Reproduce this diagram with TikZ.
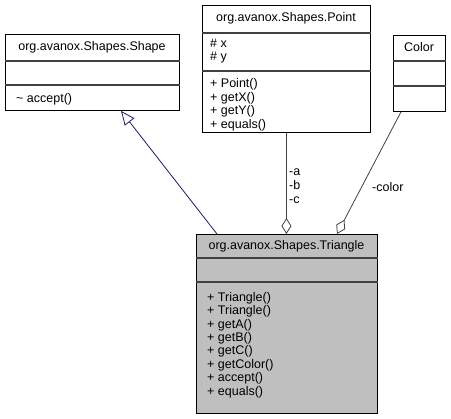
\documentclass[tikz,border=0pt]{standalone}
\usepackage{fontspec}
\setmainfont{Liberation Sans}
\usepackage{xcolor}
\usetikzlibrary{positioning, arrows.meta}

\definecolor{divgray}{HTML}{404040}
\definecolor{classgray}{HTML}{BFBFBF}
\definecolor{inhblue}{HTML}{191970}

\begin{document}
\begin{tikzpicture}[x=1pt, y=-1pt,
    classbox/.style={draw=black, line width=0.9pt, anchor=north west, inner sep=0pt},
    divider/.style={draw=divgray, line width=1.4pt},
    title/.style={inner sep=0pt, font=\fontsize{12.5}{13.4}\selectfont},
    members/.style={inner sep=0pt, anchor=north west, align=left, font=\fontsize{12.5}{13.4}\selectfont},
    inherit/.style={draw=inhblue, line width=0.8pt, -{Triangle[length=14pt, width=12pt, fill=white]}},
    aggr/.style={draw=divgray, line width=0.8pt, -{Diamond[length=16pt, width=10pt, fill=white]}},
    role/.style={inner sep=0pt, anchor=west, align=left, font=\fontsize{12.5}{14}\selectfont}]
    \useasboundingbox (0,0) rectangle (451,419);

    % class boxes
    \node[classbox, minimum width=174pt, minimum height=76pt] (shape) at (5,34) {};
    \node[classbox, minimum width=168pt, minimum height=127pt] (point) at (202,5) {};
    \node[classbox, minimum width=52pt, minimum height=76pt] (color) at (393,35) {};
    \node[classbox, fill=classgray, minimum width=181pt, minimum height=179pt] (tri) at (196,234) {};

    % compartments
    \draw[divider] ([yshift=-27pt]shape.north west) -- ([yshift=-27pt]shape.north east);
    \draw[divider] ([yshift=-51pt]shape.north west) -- ([yshift=-51pt]shape.north east);
    \draw[divider] ([yshift=-28pt]point.north west) -- ([yshift=-28pt]point.north east);
    \draw[divider] ([yshift=-66pt]point.north west) -- ([yshift=-66pt]point.north east);
    \draw[divider] ([yshift=-26pt]color.north west) -- ([yshift=-26pt]color.north east);
    \draw[divider] ([yshift=-51pt]color.north west) -- ([yshift=-51pt]color.north east);
    \draw[divider] ([yshift=-24pt]tri.north west) -- ([yshift=-24pt]tri.north east);
    \draw[divider] ([yshift=-48pt]tri.north west) -- ([yshift=-48pt]tri.north east);

    % names and members
    \node[title] (shapename) at (92,47.5) {org.avanox.Shapes.Shape};
    \node[members] (shapeops) at (16,93.5) {\textasciitilde{} accept()};

    \node[title] (pointname) at (286,18.5) {org.avanox.Shapes.Point};
    \node[members] (pointattr) at (210,38.5) {\# x\\\# y};
    \node[members] (pointops) at (210,78.6) {+ Point()\\+ getX()\\+ getY()\\+ equals()};

    \node[title] (colorname) at (419,47.5) {Color};

    \node[title] (triname) at (286.5,246) {org.avanox.Shapes.Triangle};
    \node[members] (triops) at (207,292) {+ Triangle()\\+ Triangle()\\+ getA()\\+ getB()\\+ getC()\\+ getColor()\\+ accept()\\+ equals()};

    % relations
    \draw[inherit] ([xshift=21pt]tri.north west) -- ([xshift=116pt]shape.south west);
    \draw[aggr] (point.south) -- (point.south |- tri.north);
    \draw[aggr] ([xshift=8pt]color.south west) -- ([xshift=141pt]tri.north west);

    \node[role] (abc) at (289,186) {-a\\-b\\-c};
    \node[role] (colrole) at (372,187) {-color};
\end{tikzpicture}
\end{document}
